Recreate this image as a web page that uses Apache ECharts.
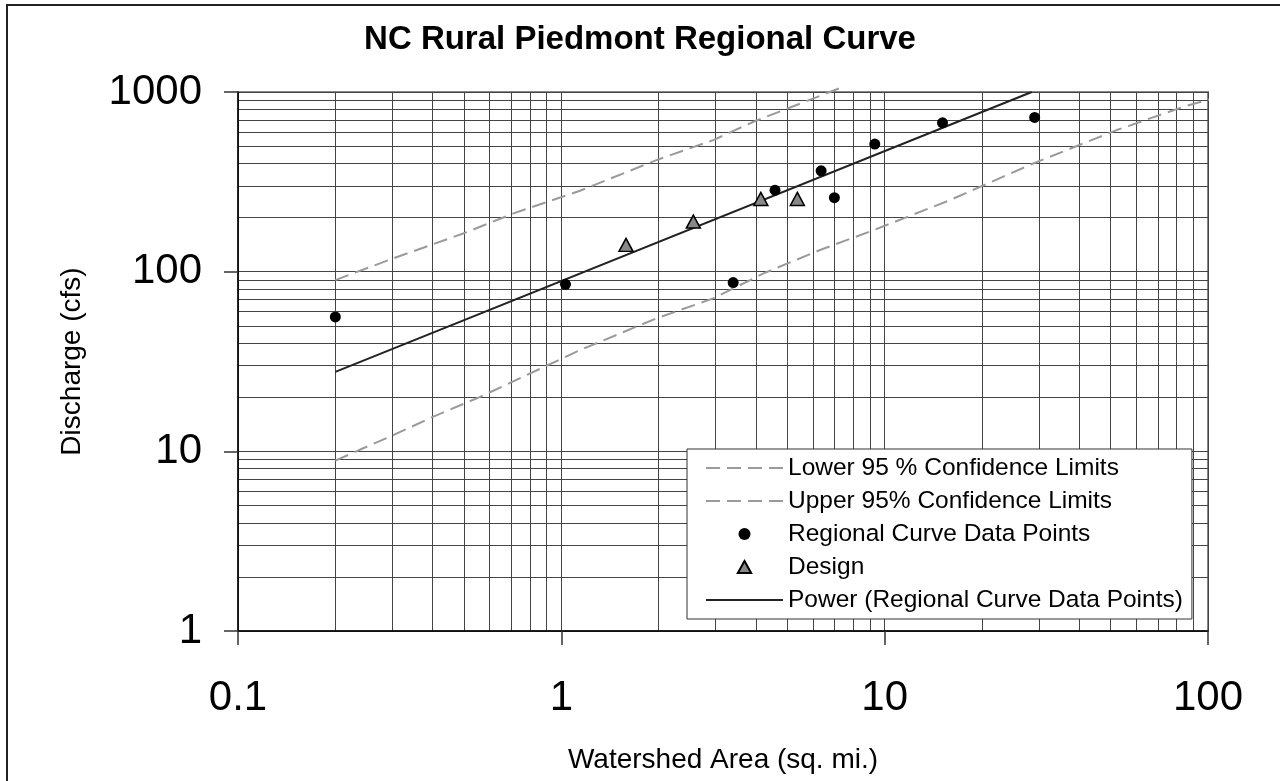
<!DOCTYPE html>
<html>
<head>
<meta charset="utf-8">
<title>NC Rural Piedmont Regional Curve</title>
<script src="https://cdn.jsdelivr.net/npm/echarts@6/dist/echarts.min.js"></script>
<style>
    html, body { margin: 0; padding: 0; background: #fff; }
    #main { width: 1280px; height: 781px; }
</style>
</head>
<body>
<div id="main"></div>
<script>
// values: watershed area (sq. mi.) vs discharge (cfs)
const regionalArea = [0.2, 1.03, 3.4, 4.58, 6.36, 6.99, 9.32, 15.1, 29.1];
const regionalQ    = [56, 85, 87, 284, 364, 258, 513, 674, 722];

const designArea = [1.585, 2.56, 4.14, 5.37];
const designQ    = [141, 190, 254, 254];

const lowerArea = [0.2, 0.238, 0.302, 0.402, 0.561, 0.782, 1.142, 1.97, 2.95, 4.22, 6.31, 9.23, 15.9, 28.8, 52.2, 84, 103.7];
const lowerQ    = [8.87, 10.2, 12.3, 15.6, 20.1, 26.6, 36.6, 55, 71, 97.8, 132, 170, 250, 400, 614, 828, 921];

const upperArea = [0.2, 0.302, 0.497, 0.711, 1.142, 1.97, 2.95, 3.93, 7.54];
const upperQ    = [89.8, 118.6, 163, 211, 282, 418, 540, 683, 1079];

// power trendline (Q = 89.04 A^0.72), end points as drawn
const powerArea = [0.2, 28.5];
const powerQ    = [27.7, 1000];

const xRange = [0.1, 100];
const yRange = [1, 1000];

const names = [
    'Lower 95 % Confidence Limits',
    'Upper 95% Confidence Limits',
    'Regional Curve Data Points',
    'Design',
    'Power (Regional Curve Data Points)'
];

function pairs(xs, ys) {
    return xs.map(function (x, i) { return [x, ys[i]]; });
}

const font = '"Liberation Sans", Arial, sans-serif';
const gridColor = '#444';
const triIcon = 'path://M5,0 L10,9 L0,9 Z';

let myChart = echarts.init(document.getElementById('main'));

let option = {
    animation: false,
    title: {
        text: 'NC Rural Piedmont Regional Curve',
        left: 'center',
        top: 18,
        textStyle: { fontFamily: font, fontSize: 33, fontWeight: 'bold', color: '#000' }
    },
    graphic: [{
        type: 'rect',
        shape: { x: 7, y: 5, width: 1300, height: 800 },
        style: { fill: 'none', stroke: '#222', lineWidth: 2 },
        silent: true
    }],
    grid: {
        left: 238, right: 72, top: 92, bottom: 150,
        show: true, borderColor: '#888', borderWidth: 2
    },
    legend: {
        data: [
            { name: names[0], itemStyle: { opacity: 0 } },
            { name: names[1], itemStyle: { opacity: 0 } },
            { name: names[2] },
            { name: names[3], icon: triIcon },
            { name: names[4], itemStyle: { opacity: 0 } }
        ],
        orient: 'vertical',
        left: 687,
        top: 449,
        backgroundColor: '#fff',
        borderColor: '#333',
        borderWidth: 1,
        borderRadius: 0,
        padding: [5, 9, 5, 18],
        itemWidth: 77,
        itemHeight: 12,
        itemGap: 5,
        symbolKeepAspect: true,
        textStyle: { fontFamily: font, fontSize: 24.5, color: '#000', lineHeight: 28 }
    },
    xAxis: {
        type: 'log',
        logBase: 10,
        min: xRange[0],
        max: xRange[1],
        name: 'Watershed Area (sq. mi.)',
        nameLocation: 'middle',
        nameGap: 115,
        nameTextStyle: { fontFamily: font, fontSize: 28, color: '#000' },
        axisLine: { show: true, onZero: false, lineStyle: { color: '#000', width: 1.5 } },
        axisTick: { show: true, length: 14, lineStyle: { color: '#333', width: 1.5 } },
        axisLabel: {
            fontFamily: font, fontSize: 42, color: '#000', margin: 46,
            formatter: function (v) { return String(v); }
        },
        splitLine: { show: true, lineStyle: { color: gridColor, width: 1 } },
        minorTick: { show: false, splitNumber: 9 },
        minorSplitLine: { show: true, lineStyle: { color: gridColor, width: 1 } }
    },
    yAxis: {
        type: 'log',
        logBase: 10,
        min: yRange[0],
        max: yRange[1],
        name: 'Discharge (cfs)',
        nameLocation: 'middle',
        nameGap: 152,
        nameTextStyle: { fontFamily: font, fontSize: 28, color: '#000' },
        axisLine: { show: true, onZero: false, lineStyle: { color: '#000', width: 1.5 } },
        axisTick: { show: true, length: 14, lineStyle: { color: '#333', width: 1.5 } },
        axisLabel: {
            fontFamily: font, fontSize: 42, color: '#000', margin: 36,
            formatter: function (v) { return String(v); }
        },
        splitLine: { show: true, lineStyle: { color: gridColor, width: 1 } },
        minorTick: { show: false, splitNumber: 9 },
        minorSplitLine: { show: true, lineStyle: { color: gridColor, width: 1 } }
    },
    series: [
        {
            name: names[0],
            type: 'line',
            data: pairs(lowerArea, lowerQ),
            symbol: 'none',
            clip: false,
            z: 3,
            lineStyle: { color: '#9a9a9a', width: 2, type: [14, 7] },
            itemStyle: { color: '#9a9a9a' }
        },
        {
            name: names[1],
            type: 'line',
            data: pairs(upperArea, upperQ),
            symbol: 'none',
            clip: false,
            z: 3,
            lineStyle: { color: '#9a9a9a', width: 2, type: [14, 7] },
            itemStyle: { color: '#9a9a9a' }
        },
        {
            name: names[2],
            type: 'scatter',
            data: pairs(regionalArea, regionalQ),
            symbol: 'circle',
            symbolSize: 11,
            z: 5,
            itemStyle: { color: '#000', opacity: 1 }
        },
        {
            name: names[3],
            type: 'scatter',
            data: pairs(designArea, designQ),
            symbol: 'triangle',
            symbolSize: [14, 13],
            z: 5,
            itemStyle: { color: '#888', borderColor: '#000', borderWidth: 1.5, opacity: 1 }
        },
        {
            name: names[4],
            type: 'line',
            data: pairs(powerArea, powerQ),
            symbol: 'none',
            z: 4,
            lineStyle: { color: '#222', width: 2 },
            itemStyle: { color: '#222' }
        }
    ]
};

myChart.setOption(option);
</script>
</body>
</html>
